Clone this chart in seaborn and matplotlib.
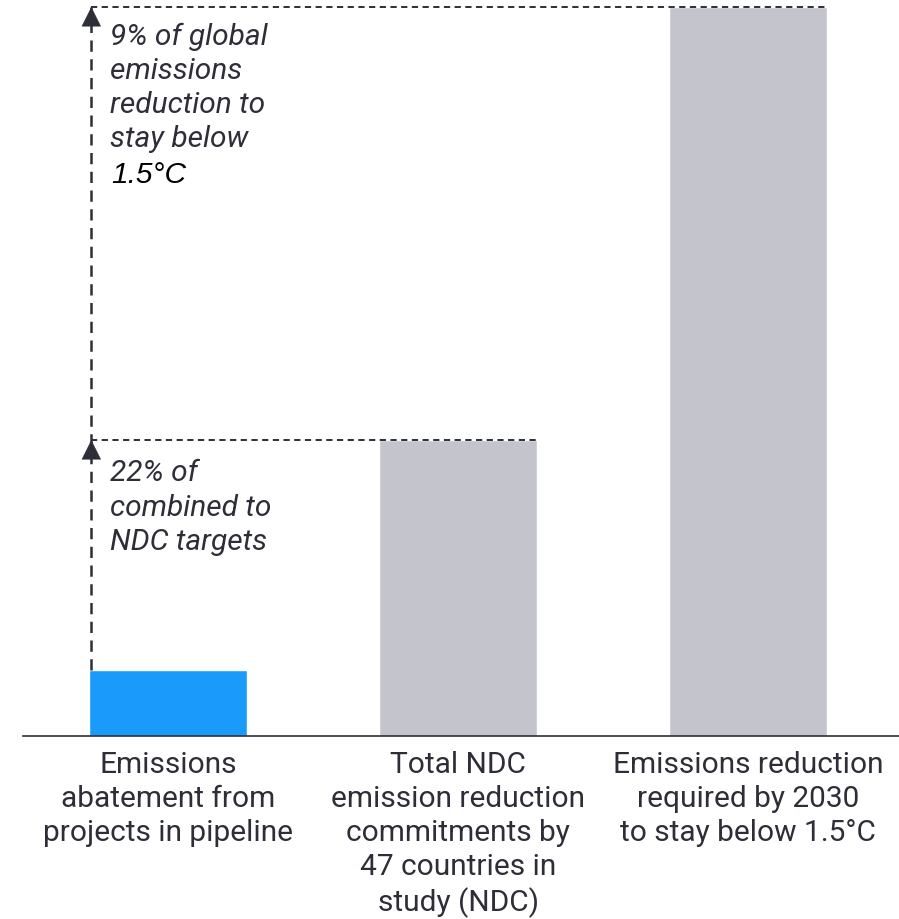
import matplotlib
matplotlib.use("Agg")
import matplotlib.pyplot as plt
import seaborn as sns
import pandas as pd

categories = ["Emissions\nabatement from\nprojects in pipeline",
              "Total NDC\nemission reduction\ncommitments by\n47 countries in\nstudy (NDC)",
              "Emissions reduction\nrequired by 2030\nto stay below 1.5°C"]
values = [0.905, 4.06, 10.0]
colors = ["#1a9bfb", "#c4c4cd", "#c4c4cd"]

note_global = "9% of global\nemissions\nreduction to\nstay below"
note_global_temp = "1.5°C"
note_ndc = "22% of\ncombined to\nNDC targets"

dark = "#2e2e38"
bar_w = 0.545

sns.set_style("white")
plt.rcParams['font.family'] = ['Roboto', 'DejaVu Sans']

df = pd.DataFrame({"cat": categories, "val": values})

fig = plt.figure(figsize=(8.99, 9.2), dpi=100)
ax = fig.add_axes([0.0256, 0.1989, 0.9744, 0.7924])
sns.barplot(data=df, x="cat", y="val", hue="cat", palette=colors, legend=False,
            width=bar_w, saturation=1, ax=ax)

ax.set_xlim(-0.5, 2.52)
ax.set_ylim(0, values[2])
ax.set_xlabel("")
ax.set_ylabel("")
ax.set_yticks([])
ax.tick_params(axis="x", length=0, pad=10, labelsize=21.5, labelcolor=dark)
for lab in ax.get_xticklabels():
    lab.set_linespacing(1.27)
    lab.set_verticalalignment("top")
for s in ["top", "left", "right"]:
    ax.spines[s].set_visible(False)
ax.spines["bottom"].set_color(dark)
ax.spines["bottom"].set_linewidth(1.2)

# dashed guide lines
xv = -bar_w / 2 + 0.008
ls = (0, (3.2, 2.3))
ax.plot([xv, xv], [values[0], values[2]], color=dark, lw=1.8, ls=(0, (4.5, 3)), clip_on=False)
ax.plot([xv, 1 + bar_w / 2], [values[1], values[1]], color=dark, lw=1.4, ls=ls, clip_on=False)
ax.plot([xv, 2 + bar_w / 2], [values[2], values[2]], color=dark, lw=1.4, ls=ls, clip_on=False)
for v in [values[1], values[2]]:
    ax.annotate("", xy=(xv, v), xytext=(xv, v - 0.3),
                arrowprops=dict(arrowstyle="-|>,head_length=0.6,head_width=0.3", color=dark, lw=0.5,
                                mutation_scale=22, shrinkA=0, shrinkB=0),
                annotation_clip=False)

# annotations
tx = xv + 0.063
ax.text(tx, values[2] - 0.2, note_global, ha="left", va="top", fontsize=21.5,
        style="italic", color=dark, linespacing=1.27)
ax.text(tx + 0.005, values[2] - 2.1, note_global_temp, ha="left", va="top", fontsize=21.5,
        style="italic", color="black", family=["Liberation Sans", "DejaVu Sans"])
ax.text(tx, values[1] - 0.25, note_ndc, ha="left", va="top", fontsize=21.5,
        style="italic", color=dark, linespacing=1.3)

fig.savefig("out.png", dpi=100)
